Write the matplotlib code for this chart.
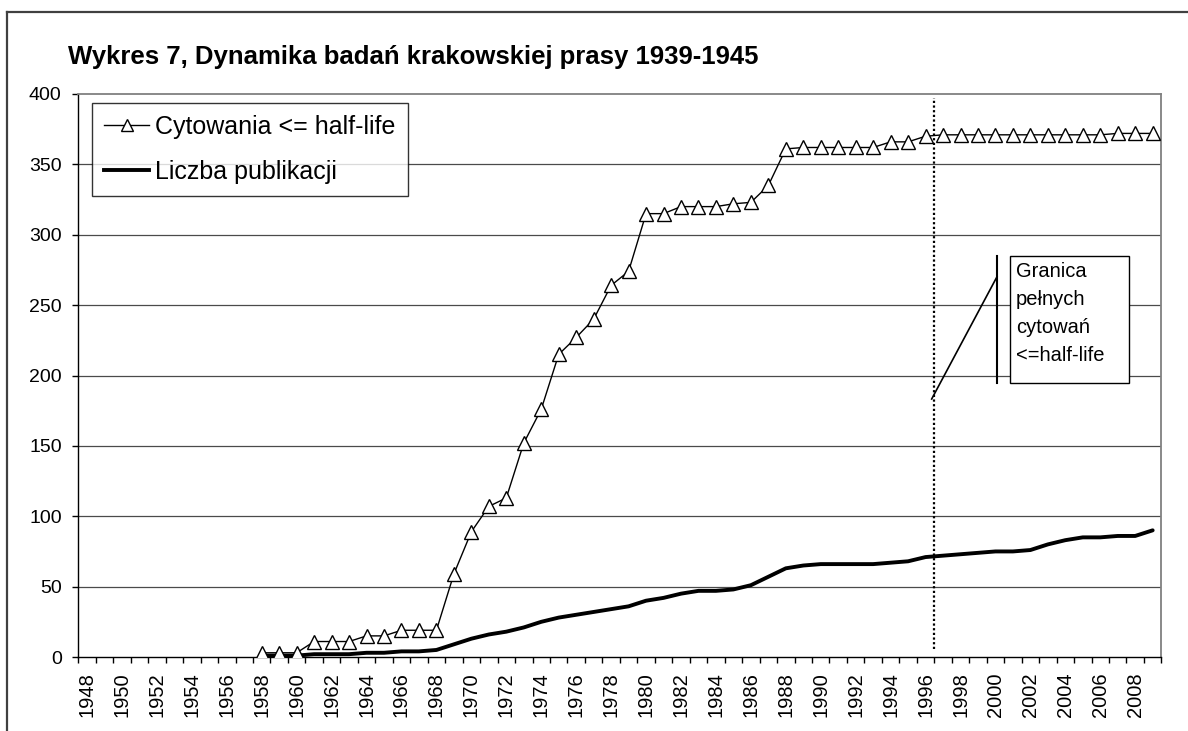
import matplotlib

matplotlib.use("Agg")
import matplotlib.pyplot as plt
from matplotlib.lines import Line2D
from matplotlib.patches import Rectangle

plt.rcParams["font.family"] = ["Liberation Sans", "DejaVu Sans"]

TITLE = "Wykres 7, Dynamika badań krakowskiej prasy 1939-1945"
CITATIONS_LABEL = "Cytowania <= half-life"
PUBLICATIONS_LABEL = "Liczba publikacji"
NOTE_TEXT = "Granica\npełnych\ncytowań\n<=half-life"

# category axis: every year, labels on every other year
years = list(range(1948, 2010))
tick_years = list(range(1948, 2010, 2))

# both series start in 1958
series_years = list(range(1958, 2010))
citations = [
    3, 3, 3, 11, 11, 11, 15, 15, 19, 19,          # 1958-1967
    19, 59, 89, 107, 113, 152, 176, 215, 227, 240,  # 1968-1977
    264, 274, 315, 315, 320, 320, 320, 322, 323, 335,  # 1978-1987
    361, 362, 362, 362, 362, 362, 366, 366, 370, 371,  # 1988-1997
    371, 371, 371, 371, 371, 371, 371, 371, 371, 372,  # 1998-2007
    372, 372,                                        # 2008-2009
]
publications = [
    1, 1, 1, 2, 2, 2, 3, 3, 4, 4,
    5, 9, 13, 16, 18, 21, 25, 28, 30, 32,
    34, 36, 40, 42, 45, 47, 47, 48, 51, 57,
    63, 65, 66, 66, 66, 66, 67, 68, 71, 72,
    73, 74, 75, 75, 76, 80, 83, 85, 85, 86,
    86, 90,
]

y_ticks = list(range(0, 401, 50))

# half-life boundary marker and its callout (data units)
boundary_x = 1996.5
boundary_span = (6, 397)
note_box = (2000.83, 194.7, 6.81, 90.3)  # x, y, width, height
note_bar_x = 2000.09
note_leader = ((2000.09, 270.2), (1996.35, 183.3))

W, H = 1188, 731


def fx(px: float) -> float:
    return px / W


def fy(py: float) -> float:
    return 1 - py / H


def main() -> None:
    fig = plt.figure(figsize=(W / 100, H / 100), dpi=100)
    fig.patch.set_facecolor("white")

    left, right, top, bottom = 78.3, 1161.4, 94, 657
    ax = fig.add_axes([fx(left), fy(bottom), (right - left) / W, (bottom - top) / H])

    ax.set_xlim(years[0] - 0.5, years[-1] + 0.5)
    ax.set_ylim(y_ticks[0], y_ticks[-1])

    # horizontal gridlines
    for value in y_ticks[1:-1]:
        ax.axhline(value, color="#4a4a4a", lw=0.9, zorder=1)

    ax.plot(series_years, publications, color="black", lw=2.8, solid_capstyle="round",
            solid_joinstyle="round", zorder=3, label=PUBLICATIONS_LABEL)
    ax.plot(series_years, citations, color="black", lw=1.0, marker="^", markersize=9.5,
            markerfacecolor="white", markeredgecolor="black", markeredgewidth=1.0,
            zorder=4, label=CITATIONS_LABEL)

    # spines
    for side in ("top", "right"):
        ax.spines[side].set_color("#808080")
        ax.spines[side].set_linewidth(1.3)
    for side in ("left", "bottom"):
        ax.spines[side].set_color("black")
        ax.spines[side].set_linewidth(1.0)

    ax.set_yticks(y_ticks)
    ax.tick_params(axis="y", direction="out", length=4, width=1.0, pad=8, labelsize=14)

    ax.set_xticks([y - 0.5 for y in years] + [years[-1] + 0.5])
    ax.set_xticklabels([])
    ax.tick_params(axis="x", which="major", direction="out", length=4, width=1.0)
    ax.set_xticks(tick_years, minor=True)
    ax.set_xticklabels([str(y) for y in tick_years], minor=True, rotation=90)
    ax.tick_params(axis="x", which="minor", length=0, pad=11, labelsize=14.5)

    # boundary line and callout
    ax.plot([boundary_x, boundary_x], boundary_span, color="black", lw=1.6,
            linestyle=(0, (1, 1.1)), zorder=5)
    bx, by, bw, bh = note_box
    ax.add_patch(Rectangle((bx, by), bw, bh, facecolor="white", edgecolor="black",
                           lw=1.0, zorder=6))
    ax.plot([note_bar_x, note_bar_x], [by, by + bh], color="black", lw=1.5, zorder=6)
    (x0, y0), (x1, y1) = note_leader
    ax.plot([x0, x1], [y0, y1], color="black", lw=1.2, zorder=6)
    fig.text(fx(1016), fy(262), NOTE_TEXT, fontsize=14.5, va="top", ha="left",
             linespacing=1.6, zorder=7)

    handles = [
        Line2D([], [], color="black", lw=1.0, marker="^", markersize=8.5,
               markerfacecolor="white", markeredgecolor="black"),
        Line2D([], [], color="black", lw=2.8),
    ]
    leg = ax.legend(handles, [CITATIONS_LABEL, PUBLICATIONS_LABEL], loc="upper left",
                    bbox_to_anchor=(fx(92), fy(103)), bbox_transform=fig.transFigure,
                    fontsize=18, frameon=True, fancybox=False, borderaxespad=0,
                    handlelength=1.8, handletextpad=0.25, labelspacing=0.84,
                    borderpad=0.48, numpoints=1)
    leg.get_frame().set_edgecolor("black")
    leg.get_frame().set_linewidth(1.0)
    leg.set_zorder(8)

    fig.text(fx(68), fy(57), TITLE, fontsize=18.5, fontweight="bold", va="center", ha="left")

    # outer chart frame (top and left edges visible)
    fig.add_artist(Line2D([fx(7), 1], [fy(11.5), fy(11.5)], color="#404040", lw=1.6))
    fig.add_artist(Line2D([fx(7), fx(7)], [fy(11.5), 0], color="#404040", lw=1.6))

    fig.savefig("out.png", dpi=100)
    plt.close(fig)


if __name__ == "__main__":
    main()
